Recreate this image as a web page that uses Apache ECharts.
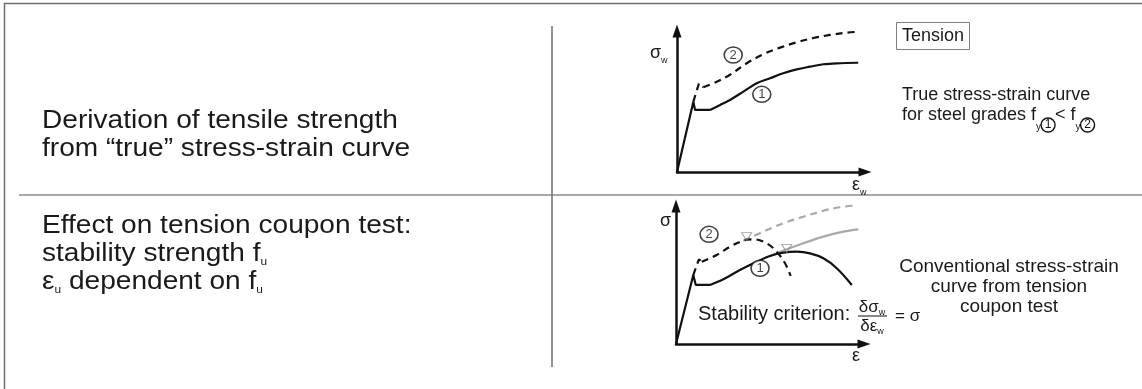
<!DOCTYPE html>
<html>
<head>
<meta charset="utf-8">
<script src="https://cdn.jsdelivr.net/npm/echarts@6/dist/echarts.min.js"></script>
<style>
  html, body { margin: 0; padding: 0; background: #ffffff; }
  #chart { width: 1142px; height: 389px; }
</style>
</head>
<body>
<div id="chart"></div>
<script>
// ---- Upper panel: true stress-strain curves (strain %, stress % of axis range) ----
const trueYield1   = [[0, 0], [8.7, 49.9], [9.6, 44.0], [17.6, 44.0]];
const trueHarden1  = [[17.6, 44.0], [22.9, 47.5], [28.2, 51.1], [35.3, 57.0], [42.4, 62.9], [49.5, 66.5],
                      [56.5, 70.0], [63.7, 72.8], [70.7, 74.7], [77.8, 76.4], [84.9, 77.1], [96.4, 77.5]];
const trueYield2   = [[8.7, 49.9], [11.7, 62.9], [14.0, 60.1]];
const trueHarden2  = [[14.0, 60.1], [21.1, 64.0], [28.2, 69.0], [37.1, 77.1], [45.9, 83.5], [54.8, 88.2],
                      [63.7, 92.0], [72.5, 95.0], [81.4, 97.2], [90.3, 98.8], [96.4, 99.5]];
const trueTags     = [[29.9, 83.0, '2'], [45.1, 55.1, '1']];

// ---- Lower panel: conventional curves from the coupon test ----
const convYield1   = [[0, 0], [9.2, 50.0], [10.5, 42.8], [18.1, 42.8]];
const convCurve1   = [[18.1, 42.8], [25.2, 46.9], [34.0, 53.6], [42.9, 59.6], [50.0, 63.8], [57.1, 66.2],
                      [64.2, 66.9], [71.3, 65.7], [78.4, 62.1], [85.5, 54.9], [93.5, 42.8]];
const convTrue1    = [[50.0, 63.8], [58.9, 68.6], [67.7, 73.0], [78.4, 77.8], [89.0, 81.4], [97.0, 83.1]];
const convYield2   = [[9.2, 50.0], [12.2, 61.4], [13.7, 59.6]];
const convCurve2   = [[13.7, 59.6], [21.6, 64.5], [28.7, 70.5], [35.8, 74.9], [41.1, 75.9], [48.2, 73.0],
                      [53.6, 66.9], [58.0, 58.5], [61.0, 49.3]];
const convTrue2    = [[35.8, 74.9], [46.4, 81.4], [57.1, 87.5], [67.7, 92.2], [78.4, 96.6], [87.2, 99.1], [94.0, 100.2]];
const stabilityPts = [[37.6, 77.8], [58.9, 69.3]];
const convTags     = [[17.6, 79.5, '2'], [44.7, 54.9, '1']];

const FONT = '"Liberation Sans", Arial, Helvetica, sans-serif';
const INK = '#111111';
const GREY = '#a9a9a9';

function axisPair(gridIndex) {
  const common = {
    gridIndex, type: 'value', min: 0, max: 100,
    axisLine: { show: true, onZero: false, symbol: ['none', 'triangle'], symbolSize: [9, 13],
                lineStyle: { color: INK, width: 2.5 } },
    axisTick: { show: false }, axisLabel: { show: false }, splitLine: { show: false }
  };
  return { x: Object.assign({}, common), y: Object.assign({}, common) };
}
const upperAxes = axisPair(0), lowerAxes = axisPair(1);

function curve(data, axis, opts) {
  return Object.assign({
    type: 'line', data, xAxisIndex: axis, yAxisIndex: axis, showSymbol: false, symbol: 'none',
    clip: false, smooth: false, silent: true,
    lineStyle: { color: INK, width: 2.2, type: 'solid', cap: 'butt' }
  }, opts || {});
}
function dashed(color) { return { color, width: 2.2, type: [7, 5] }; }

function tags(data, axis) {
  return {
    type: 'scatter', data, xAxisIndex: axis, yAxisIndex: axis, symbol: 'circle', symbolSize: [18, 16],
    silent: true, z: 5,
    itemStyle: { color: '#ffffff', borderColor: INK, borderWidth: 1.5 },
    label: { show: true, position: 'inside', formatter: p => p.value[2],
             color: INK, fontSize: 13, fontFamily: FONT }
  };
}

// text helper; 'sx' widens glyphs horizontally (scaled around the left/anchor point)
function txt(x, y, text, size, extra) {
  extra = extra || {};
  return {
    type: 'text', x, y, z: 10, silent: true, scaleX: extra.sx || 1,
    style: Object.assign({ text, fontSize: size, fontFamily: FONT, fill: '#1a1a1a',
                           align: 'left', verticalAlign: 'middle' }, extra.style || {})
  };
}
function sub(size, lh) {
  return { fontSize: size, fontFamily: FONT, fill: '#1a1a1a', verticalAlign: 'bottom', lineHeight: lh };
}
const ring = { width: 14, height: 14, lineHeight: 14, borderRadius: 8, borderColor: INK, borderWidth: 1.4,
               align: 'center', fontSize: 12, fontFamily: FONT, fill: INK, verticalAlign: 'bottom' };

const chart = echarts.init(document.getElementById('chart'), null, { renderer: 'canvas' });
chart.setOption({
  animation: false,
  backgroundColor: '#ffffff',
  grid: [
    { left: 677, top: 31, width: 188, height: 141 },
    { left: 676, top: 206, width: 188, height: 138 }
  ],
  xAxis: [upperAxes.x, lowerAxes.x],
  yAxis: [upperAxes.y, lowerAxes.y],
  series: [
    curve(trueYield1, 0),
    curve(trueHarden1, 0, { smooth: 0.35 }),
    curve(trueYield2, 0, { lineStyle: dashed(INK) }),
    curve(trueHarden2, 0, { smooth: 0.35, lineStyle: dashed(INK) }),
    tags(trueTags, 0),

    curve(convTrue1, 1, { smooth: 0.35, lineStyle: { color: GREY, width: 2.2 } }),
    curve(convTrue2, 1, { smooth: 0.35, lineStyle: dashed(GREY) }),
    curve(convYield1, 1),
    curve(convCurve1, 1, { smooth: 0.35 }),
    curve(convYield2, 1, { lineStyle: dashed(INK) }),
    curve(convCurve2, 1, { smooth: 0.35, lineStyle: dashed(INK) }),
    {
      type: 'scatter', data: stabilityPts, xAxisIndex: 1, yAxisIndex: 1, symbol: 'triangle',
      symbolRotate: 180, symbolSize: [10, 8], silent: true, z: 4,
      itemStyle: { color: 'rgba(255,255,255,0)', borderColor: '#8a8a8a', borderWidth: 1 }
    },
    tags(convTags, 1)
  ],
  graphic: [
    // frame and panel separators
    { type: 'polyline', silent: true, shape: { points: [[4.5, 389], [4.5, 3.5], [1142, 3.5]] },
      style: { stroke: '#6e6e6e', lineWidth: 1.5, fill: null } },
    { type: 'line', silent: true, shape: { x1: 19, y1: 195, x2: 1142, y2: 195 },
      style: { stroke: '#a8a8a8', lineWidth: 2 } },
    { type: 'line', silent: true, shape: { x1: 552, y1: 26, x2: 552, y2: 367 },
      style: { stroke: '#777777', lineWidth: 1.6 } },

    // left-hand captions
    txt(42, 121, 'Derivation of tensile strength', 26, { sx: 1.08 }),
    txt(42, 149, 'from \u201ctrue\u201d stress-strain curve', 26, { sx: 1.08 }),
    txt(42, 226, 'Effect on tension coupon test:', 26, { sx: 1.08 }),
    txt(42, 254, 'stability strength f{s|u}', 26, { sx: 1.08, style: {
      rich: { s: sub(11, 12) }, lineHeight: 26 } }),
    txt(42, 282, '\u03b5{s|u} dependent on f{s|u}', 26, { sx: 1.08, style: {
      rich: { s: sub(11, 12) }, lineHeight: 26 } }),

    // axis names, upper panel
    txt(650, 53, '\u03c3{s|w}', 18, { style: { rich: { s: sub(9, 10) }, lineHeight: 24 } }),
    txt(852, 185, '\u03b5{s|w}', 18, { style: { rich: { s: sub(9, 10) }, lineHeight: 24 } }),
    // axis names, lower panel
    txt(660, 221, '\u03c3', 18),
    txt(852, 356, '\u03b5', 18),

    // upper panel notes
    { type: 'rect', silent: true, shape: { x: 896.5, y: 22.5, width: 73, height: 27 },
      style: { stroke: '#808080', lineWidth: 1, fill: null } },
    txt(933, 36.5, 'Tension', 18, { style: { align: 'center' } }),
    txt(902, 95, 'True stress-strain curve', 18),
    txt(902, 115, 'for steel grades f{s|y}{c|1}< f{s|y}{c|2}', 18, { style: {
      lineHeight: 34, rich: { s: sub(10, 13), c: ring } } }),

    // lower panel notes
    txt(698, 314, 'Stability criterion:', 20),
    txt(872, 307, '\u03b4\u03c3{s|w}', 17, { style: { align: 'center', lineHeight: 20, rich: { s: sub(9, 9) } } }),
    { type: 'line', silent: true, shape: { x1: 858, y1: 316, x2: 887, y2: 316 },
      style: { stroke: INK, lineWidth: 1 } },
    txt(872, 326, '\u03b4\u03b5{s|w}', 17, { style: { align: 'center', lineHeight: 20, rich: { s: sub(9, 9) } } }),
    txt(895, 316, '= \u03c3', 17),
    txt(1009, 267, 'Conventional stress-strain', 19, { style: { align: 'center' } }),
    txt(1009, 287, 'curve from tension', 19, { style: { align: 'center' } }),
    txt(1009, 307, 'coupon test', 19, { style: { align: 'center' } })
  ]
});
</script>
</body>
</html>
